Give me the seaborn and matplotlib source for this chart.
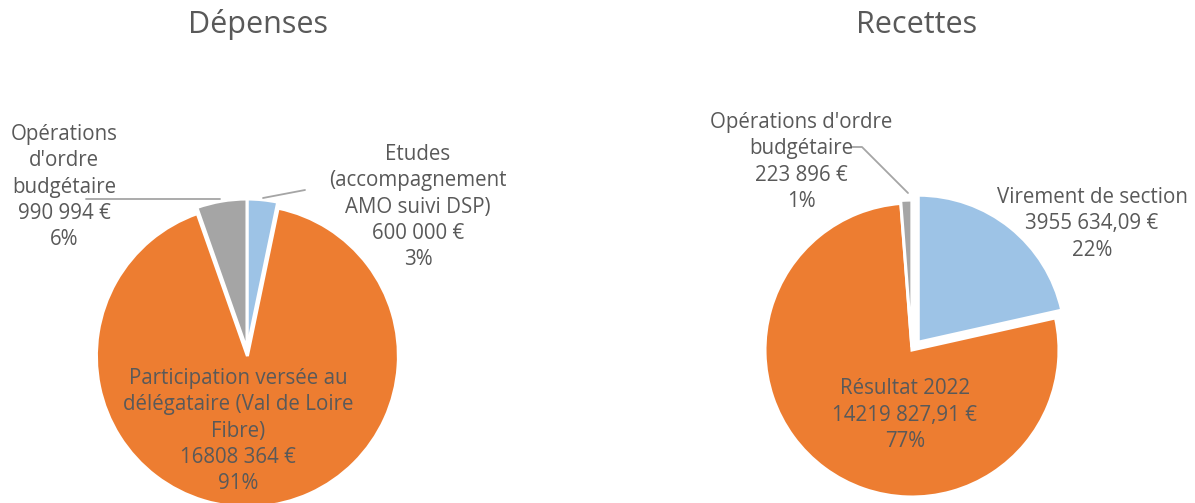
import matplotlib.pyplot as plt
import seaborn as sns
from matplotlib.lines import Line2D

# Dépenses
dep_names = ["Etudes\n(accompagnement\nAMO suivi DSP)",
             "Participation versée au\ndélégataire (Val de Loire\nFibre)",
             "Opérations\nd'ordre\nbudgétaire"]
dep_values = [600000, 16808364, 990994]
dep_amounts = ["600 000 €", "16808 364 €", "990 994 €"]
dep_pcts = ["3%", "91%", "6%"]

# Recettes
rec_names = ["Virement de section", "Résultat 2022", "Opérations d'ordre\nbudgétaire"]
rec_values = [3955634.09, 14219827.91, 223896]
rec_amounts = ["3955 634,09 €", "14219 827,91 €", "223 896 €"]
rec_pcts = ["22%", "77%", "1%"]

colors = ["#9DC3E6", "#ED7D31", "#A5A5A5"]
text_color = "#595959"

W, H = 1195, 503

sns.set_theme(style="white")
plt.rcParams['font.family'] = ['Open Sans', 'DejaVu Sans']

fig = plt.figure(figsize=(W / 100, H / 100), dpi=100)


def px(x, y):
    return x / W, 1 - y / H


def pie_axes(cx, cy, r):
    return fig.add_axes([(cx - r) / W, 1 - (cy + r) / H, 2 * r / W, 2 * r / H])


def draw_pie(ax, values, explode):
    wedges, _ = ax.pie(values, colors=colors, startangle=90, counterclock=False,
                       explode=explode,
                       wedgeprops=dict(edgecolor="white", linewidth=2.2))
    for w in wedges:
        w.set_clip_on(False)
    ax.set_xlim(-1, 1)
    ax.set_ylim(-1, 1)
    ax.axis("off")


def label(x, y, name, amount, pct):
    fig.text(*px(x, y), f"{name}\n{amount}\n{pct}", ha="center", va="center",
             multialignment="center", fontsize=14.8, color=text_color,
             linespacing=1.32)


def leader(xs, ys):
    pts = [px(x, y) for x, y in zip(xs, ys)]
    fig.add_artist(Line2D([p[0] for p in pts], [p[1] for p in pts],
                          transform=fig.transFigure, color="#A5A5A5", lw=1.3))


ax1 = pie_axes(247, 350, 151)
draw_pie(ax1, dep_values, [0, 0.04, 0])
ax2 = pie_axes(912, 350, 147)
draw_pie(ax2, rec_values, [0.068, 0, 0.02])

fig.text(*px(258, 33), "Dépenses", ha="center", va="baseline",
         fontsize=22, color=text_color)
fig.text(*px(917, 33), "Recettes", ha="center", va="baseline",
         fontsize=22, color=text_color)

# étiquettes Dépenses
label(418, 207, dep_names[0], dep_amounts[0], dep_pcts[0])
label(238, 431, dep_names[1], dep_amounts[1], dep_pcts[1])
label(64, 187, dep_names[2], dep_amounts[2], dep_pcts[2])
leader([86, 220], [199, 199])
leader([263, 305], [198, 190])

# étiquettes Recettes
label(1092, 224, rec_names[0], rec_amounts[0], rec_pcts[0])
label(905, 415, rec_names[1], rec_amounts[1], rec_pcts[1])
label(801, 162, rec_names[2], rec_amounts[2], rec_pcts[2])
leader([852, 862, 908], [147, 147, 193])

fig.savefig("out.png", dpi=100)
